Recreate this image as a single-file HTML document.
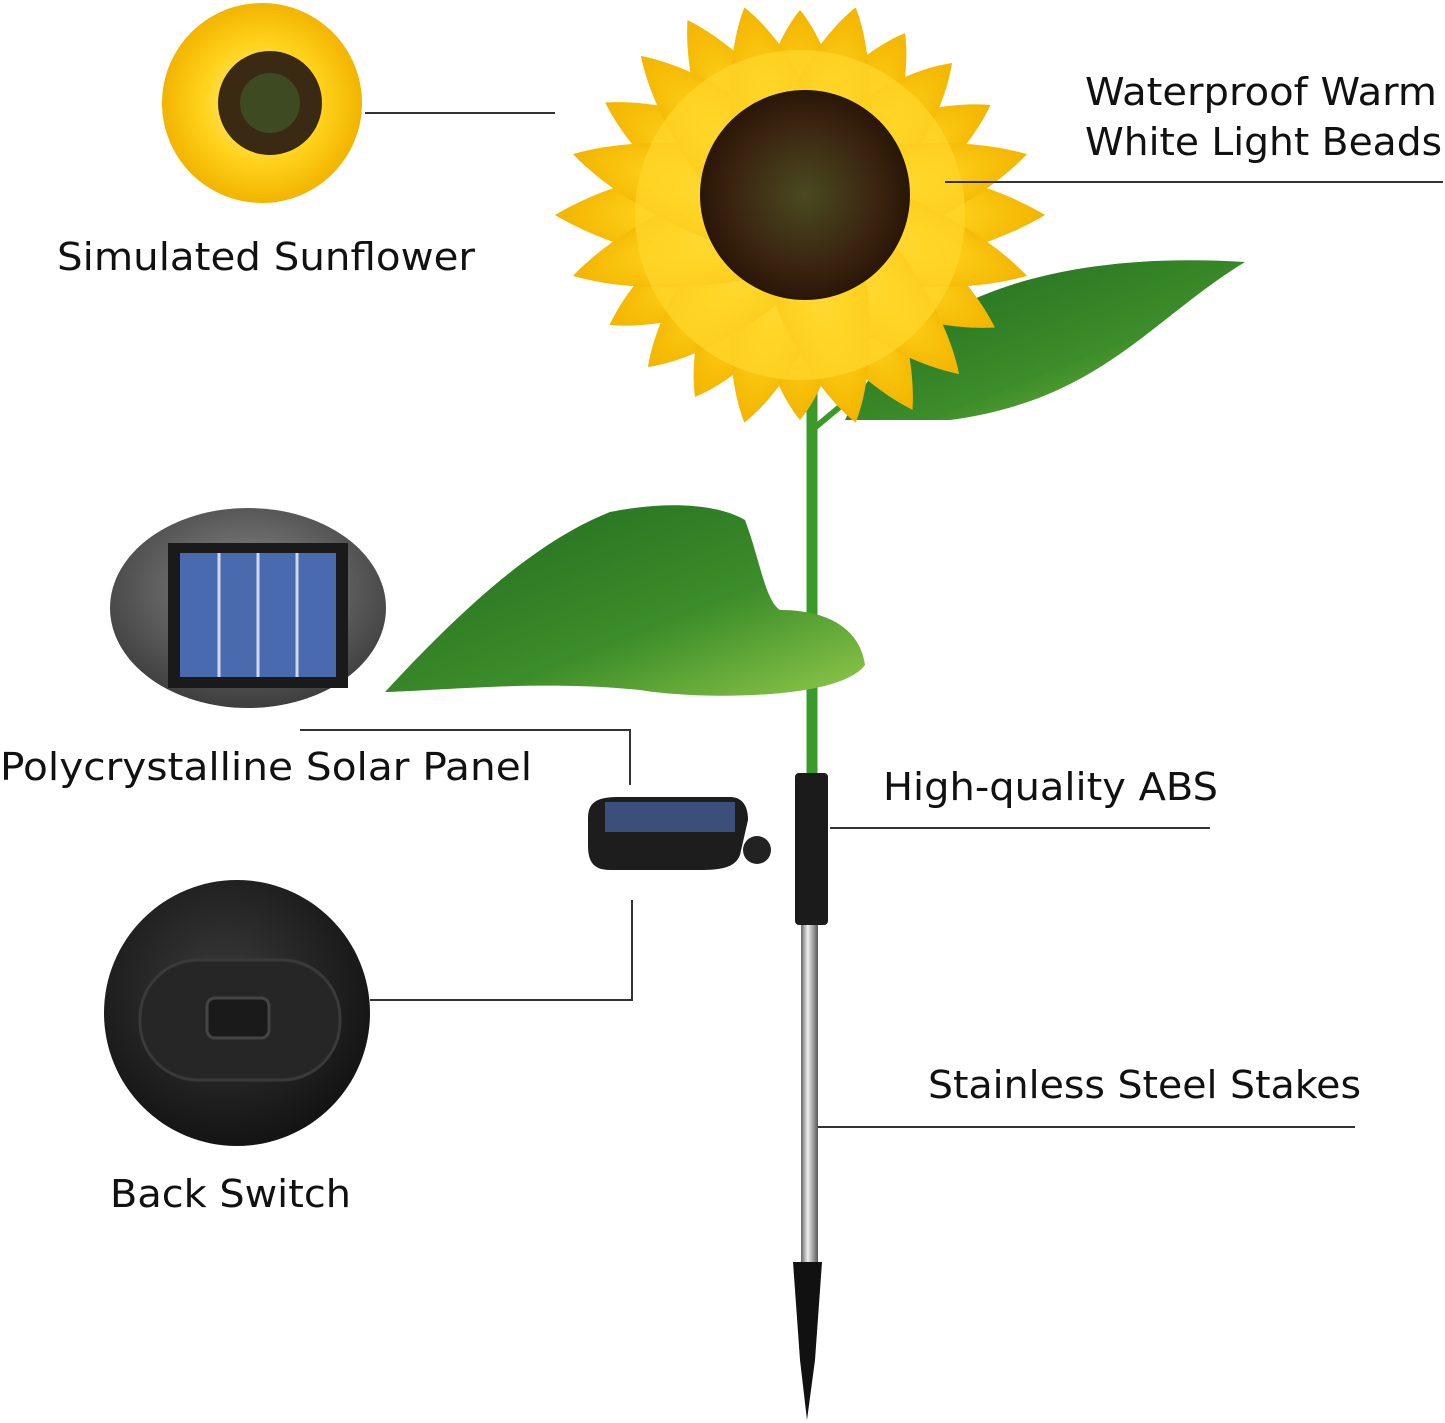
<!DOCTYPE html>
<html><head><meta charset="utf-8"><style>
html,body{margin:0;padding:0;background:#fff;}
svg{display:block}
text{font-family:"DejaVu Sans","Liberation Sans",sans-serif;fill:#111;font-size:38px}
</style></head><body>
<svg width="1445" height="1423" viewBox="0 0 1445 1423" xmlns="http://www.w3.org/2000/svg">
<defs>
<radialGradient id="pet" cx="50%" cy="50%" r="50%">
<stop offset="0" stop-color="#fff4a0"/><stop offset="0.6" stop-color="#ffd21c"/><stop offset="1" stop-color="#f2b400"/></radialGradient>
<radialGradient id="ctr" cx="50%" cy="50%" r="50%">
<stop offset="0" stop-color="#4a4a20"/><stop offset="0.7" stop-color="#3a2410"/><stop offset="1" stop-color="#2a1608"/></radialGradient>
<linearGradient id="leaf" x1="0" y1="0" x2="1" y2="1"><stop offset="0" stop-color="#1f6a1e"/><stop offset="0.6" stop-color="#3c8d2a"/><stop offset="1" stop-color="#8fc84a"/></linearGradient>
<linearGradient id="steel" x1="0" x2="1"><stop offset="0" stop-color="#666"/><stop offset="0.4" stop-color="#eee"/><stop offset="1" stop-color="#555"/></linearGradient>
<radialGradient id="grey" cx="50%" cy="40%" r="60%"><stop offset="0" stop-color="#8a8a8a"/><stop offset="1" stop-color="#3e3e3e"/></radialGradient>
<radialGradient id="sw" cx="45%" cy="40%" r="60%"><stop offset="0" stop-color="#3a3a3a"/><stop offset="1" stop-color="#141414"/></radialGradient>
</defs>

<circle cx="262" cy="103" r="100" fill="url(#pet)"/>
<circle cx="270" cy="103" r="52" fill="#3a2a14"/>
<circle cx="270" cy="103" r="30" fill="#3e4a22"/>
<line x1="365" y1="113" x2="555" y2="113" stroke="#333" stroke-width="2"/>
<text x="57" y="270" textLength="418" lengthAdjust="spacingAndGlyphs">Simulated Sunflower</text>

<path d="M845,420 C900,300 1050,250 1245,262 C1150,320 1100,400 950,420 Z" fill="url(#leaf)"/>
<path d="M812,380 L812,790" stroke="#3a9a2a" stroke-width="11" fill="none"/>
<path d="M812,430 L860,390" stroke="#3a9a2a" stroke-width="6"/>
<g transform="translate(800,215)">
<g fill="url(#pet)">
<path d="M0,-205 C70,-120 70,120 0,205 C-70,120 -70,-120 0,-205Z" transform="rotate(0)"/>
<path d="M0,-210 C70,-120 70,120 0,210 C-70,120 -70,-120 0,-210Z" transform="rotate(30)"/>
<path d="M0,-220 C70,-120 70,120 0,220 C-70,120 -70,-120 0,-220Z" transform="rotate(60)"/>
<path d="M0,-245 C75,-120 75,120 0,245 C-75,120 -75,-120 0,-245Z" transform="rotate(90)"/>
<path d="M0,-225 C70,-120 70,120 0,225 C-70,120 -70,-120 0,-225Z" transform="rotate(120)"/>
<path d="M0,-225 C70,-120 70,120 0,225 C-70,120 -70,-120 0,-225Z" transform="rotate(150)"/>
<path d="M0,-215 C70,-120 70,120 0,215 C-70,120 -70,-120 0,-215Z" transform="rotate(15)"/>
<path d="M0,-215 C70,-120 70,120 0,215 C-70,120 -70,-120 0,-215Z" transform="rotate(45)"/>
<path d="M0,-235 C70,-120 70,120 0,235 C-70,120 -70,-120 0,-235Z" transform="rotate(75)"/>
<path d="M0,-235 C70,-120 70,120 0,235 C-70,120 -70,-120 0,-235Z" transform="rotate(105)"/>
<path d="M0,-225 C70,-120 70,120 0,225 C-70,120 -70,-120 0,-225Z" transform="rotate(135)"/>
<path d="M0,-215 C70,-120 70,120 0,215 C-70,120 -70,-120 0,-215Z" transform="rotate(165)"/>
</g>
<circle cx="0" cy="0" r="165" fill="#ffd52a" opacity="0.75"/>
<circle cx="5" cy="-20" r="105" fill="url(#ctr)"/>
</g>
<line x1="945" y1="182" x2="1443" y2="182" stroke="#333" stroke-width="2"/>
<text x="1085" y="105" textLength="352" lengthAdjust="spacingAndGlyphs">Waterproof Warm</text>
<text x="1085" y="155" textLength="357" lengthAdjust="spacingAndGlyphs">White Light Beads</text>

<path d="M385,692 C470,600 540,540 610,512 C670,500 720,505 745,520 C760,560 765,600 780,610 C830,610 860,630 865,665 C840,700 700,700 640,690 C540,680 450,690 385,692Z" fill="url(#leaf)"/>

<ellipse cx="248" cy="608" rx="138" ry="100" fill="url(#grey)"/>
<rect x="168" y="543" width="180" height="145" fill="#1a1a1a"/>
<rect x="180" y="553" width="156" height="124" fill="#4a6ab0"/>
<g stroke="#cfd8ee" stroke-width="3"><line x1="219" y1="553" x2="219" y2="677"/><line x1="258" y1="553" x2="258" y2="677"/><line x1="297" y1="553" x2="297" y2="677"/></g>
<polyline points="300,730 630,730 630,785" fill="none" stroke="#333" stroke-width="2"/>
<text x="0" y="780" textLength="532" lengthAdjust="spacingAndGlyphs">Polycrystalline Solar Panel</text>

<path d="M588,818 C588,800 600,797 620,797 L730,797 C745,797 748,810 748,820 L740,855 C735,868 720,870 700,870 L610,870 C592,870 588,860 588,845Z" fill="#1d1d1d"/>
<rect x="605" y="802" width="130" height="30" fill="#3a4f7a"/>
<rect x="795" y="773" width="33" height="152" rx="4" fill="#1b1b1b"/>
<circle cx="757" cy="850" r="14" fill="#222"/>
<line x1="830" y1="828" x2="1210" y2="828" stroke="#333" stroke-width="2"/>
<text x="883" y="800" textLength="335" lengthAdjust="spacingAndGlyphs">High-quality ABS</text>

<polyline points="632,900 632,1000 370,1000" fill="none" stroke="#333" stroke-width="2"/>
<circle cx="237" cy="1013" r="133" fill="url(#sw)"/>
<rect x="140" y="960" width="200" height="120" rx="58" fill="#262626" stroke="#3a3a3a" stroke-width="3"/>
<rect x="207" y="998" width="62" height="40" rx="8" fill="#1a1a1a" stroke="#444" stroke-width="3"/>
<text x="110" y="1207" textLength="241" lengthAdjust="spacingAndGlyphs">Back Switch</text>

<rect x="801" y="925" width="17" height="340" fill="url(#steel)"/>
<path d="M793,1262 L822,1262 L815,1360 L807,1420 L800,1360Z" fill="#111"/>
<line x1="818" y1="1127" x2="1355" y2="1127" stroke="#333" stroke-width="2"/>
<text x="928" y="1098" textLength="433" lengthAdjust="spacingAndGlyphs">Stainless Steel Stakes</text>
</svg>
</body></html>
